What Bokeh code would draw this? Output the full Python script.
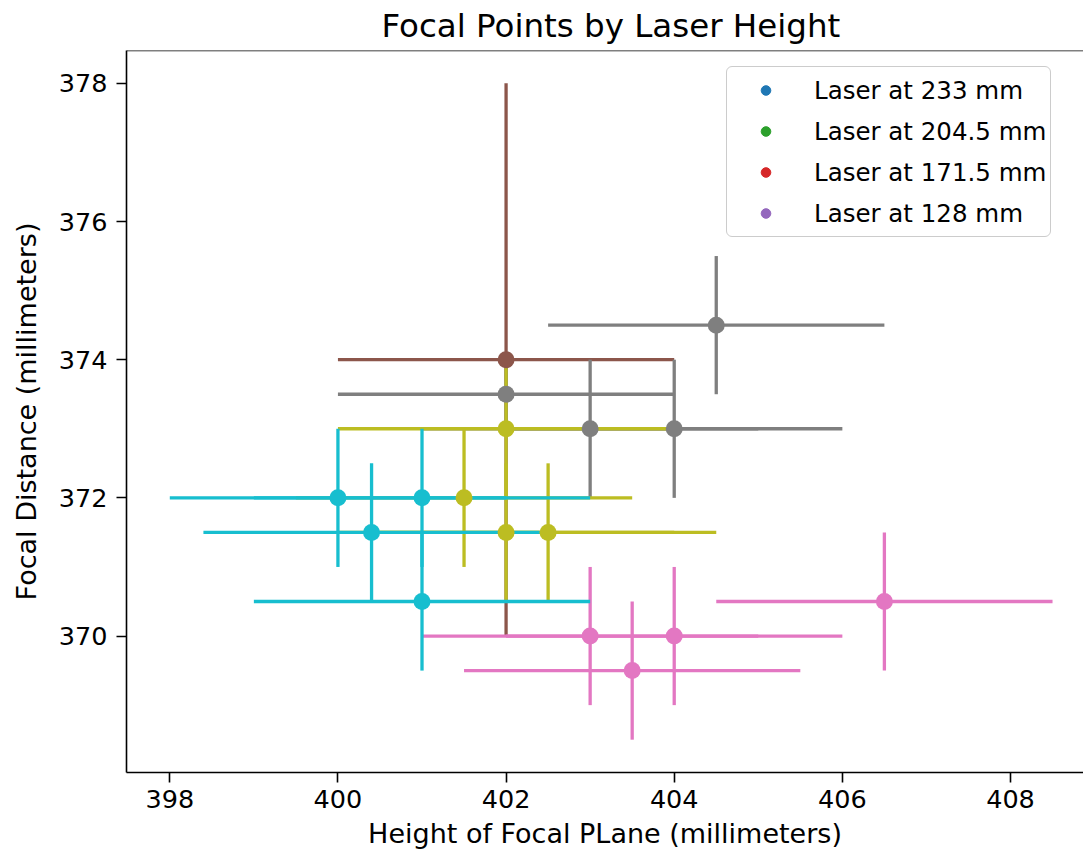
from bokeh.plotting import figure
from bokeh.models import (ColumnDataSource, Range1d, FixedTicker, Legend, LegendItem, Span, Title)
from bokeh.embed import file_html
from bokeh.resources import INLINE

# ---- data ----
legend_labels = ["Laser at 233 mm", "Laser at 204.5 mm", "Laser at 171.5 mm", "Laser at 128 mm"]
legend_colors = ["#1f77b4", "#2ca02c", "#d62728", "#9467bd"]

brown_x = [402.0]
brown_y = [374.0]
brown_xerr = [2.0]
brown_yerr = [4.0]

pink_x = [403.0, 404.0, 403.5, 406.5]
pink_y = [370.0, 370.0, 369.5, 370.5]
pink_xerr = [2.0, 2.0, 2.0, 2.0]
pink_yerr = [1.0, 1.0, 1.0, 1.0]

gray_x = [402.0, 403.0, 404.0, 404.5]
gray_y = [373.5, 373.0, 373.0, 374.5]
gray_xerr = [2.0, 2.0, 2.0, 2.0]
gray_yerr = [0.5, 1.0, 1.0, 1.0]

olive_x = [401.5, 402.0, 402.0, 402.5]
olive_y = [372.0, 373.0, 371.5, 371.5]
olive_xerr = [2.0, 2.0, 2.0, 2.0]
olive_yerr = [1.0, 1.0, 1.0, 1.0]

cyan_x = [400.0, 401.0, 400.4, 401.0]
cyan_y = [372.0, 372.0, 371.5, 370.5]
cyan_xerr = [2.0, 2.0, 2.0, 2.0]
cyan_yerr = [1.0, 1.0, 1.0, 1.0]

x_ticks = [398, 400, 402, 404, 406, 408]
y_ticks = [370, 372, 374, 376, 378]

groups = [
    ("#8c564b", brown_x, brown_y, brown_xerr, brown_yerr),
    ("#e377c2", pink_x, pink_y, pink_xerr, pink_yerr),
    ("#7f7f7f", gray_x, gray_y, gray_xerr, gray_yerr),
    ("#bcbd22", olive_x, olive_y, olive_xerr, olive_yerr),
    ("#17becf", cyan_x, cyan_y, cyan_xerr, cyan_yerr),
]

FONT = "DejaVu Sans"
Y0, Y1 = 368.025, 378.475
X0 = 397.485
FRAME_W = 957
X1 = X0 + FRAME_W / 84.07

p = figure(width=126 + FRAME_W, height=856, output_backend="svg", toolbar_location=None,
           x_range=Range1d(X0, X1), y_range=Range1d(Y0, Y1),
           min_border_left=126, min_border_right=0, min_border_top=50, min_border_bottom=84)
p.title = Title(text="Focal Points by Laser Height", align="left", offset=255,
                vertical_align="top",
                text_font=FONT, text_font_size="32.5px", text_font_style="normal",
                text_color="#000000", standoff=8)
p.outline_line_color = None
p.background_fill_color = "white"
p.border_fill_color = "white"
p.xgrid.visible = False
p.ygrid.visible = False

for ax in (p.xaxis[0], p.yaxis[0]):
    ax.axis_line_color = "black"
    ax.axis_line_width = 1.6
    ax.major_tick_line_color = "black"
    ax.major_tick_line_width = 1.6
    ax.major_tick_in = 0
    ax.major_tick_out = 10
    ax.minor_tick_line_color = None
    ax.major_label_text_font = FONT
    ax.major_label_text_font_size = "25.5px"
    ax.major_label_text_color = "#000000"
    ax.axis_label_text_font = FONT
    ax.axis_label_text_font_size = "27px"
    ax.axis_label_text_font_style = "normal"
    ax.axis_label_text_color = "#000000"

p.xaxis[0].ticker = FixedTicker(ticks=x_ticks)
p.yaxis[0].ticker = FixedTicker(ticks=y_ticks)
p.xaxis[0].axis_label = "Height of Focal PLane (millimeters)"
p.yaxis[0].axis_label = "Focal Distance (millimeters)"
p.xaxis[0].major_label_standoff = 7
p.yaxis[0].major_label_standoff = 9
p.xaxis[0].axis_label_standoff = 7
p.yaxis[0].axis_label_standoff = 14

# top spine
p.add_layout(Span(location=Y1, dimension="width", line_color="black", line_width=1.6))

LW = 3.3
# error lines first (all groups), then markers on top
for color, xs, ys, xe, ye in groups:
    src = ColumnDataSource(dict(
        x=xs, y=ys,
        xl=[a - b for a, b in zip(xs, xe)], xr=[a + b for a, b in zip(xs, xe)],
        yl=[a - b for a, b in zip(ys, ye)], yh=[a + b for a, b in zip(ys, ye)],
    ))
    p.segment(x0="xl", x1="xr", y0="y", y1="y", source=src, line_color=color,
              line_width=LW, line_cap="butt")
    p.segment(x0="x", x1="x", y0="yl", y1="yh", source=src, line_color=color,
              line_width=LW, line_cap="butt")

for color, xs, ys, xe, ye in groups:
    p.scatter(x=xs, y=ys, size=17, fill_color=color, line_color=color, line_width=0)

# legend (dots only; the legend renderers hold no drawable point)
nan = float("nan")
items = []
for lab, col in zip(legend_labels, legend_colors):
    r = p.scatter(x=[nan], y=[nan], size=9, fill_color=col, line_color=col)
    items.append(LegendItem(label=lab, renderers=[r]))

leg = Legend(items=items, location=(600, 535),
             label_text_font=FONT, label_text_font_size="24.5px", label_text_color="#000000",
             glyph_width=69, glyph_height=24, label_height=38, spacing=3, padding=4,
             label_standoff=14, margin=0,
             border_line_color="#cccccc", border_line_width=1.5, border_line_alpha=1.0,
             background_fill_color="white", background_fill_alpha=0.8,
             border_radius=6)
p.add_layout(leg)

open("out.html", "w").write(file_html(p, INLINE))
